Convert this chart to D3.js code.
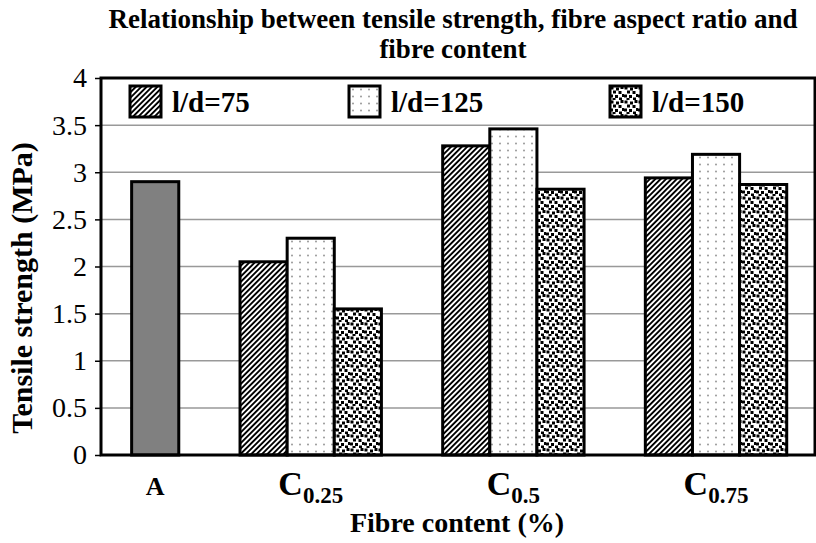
<!DOCTYPE html>
<html>
<head>
<meta charset="utf-8">
<script src="https://cdn.jsdelivr.net/npm/d3@7"></script>
<style>
  body { margin: 0; background: #fff; }
  text { font-family: "Liberation Serif", "Times New Roman", serif; fill: #000; }
</style>
</head>
<body>
<script>
// data
var categories = ["A", "C0.25", "C0.5", "C0.75"];
var series = ["l/d=75", "l/d=125", "l/d=150"];
var controlValue = [2.9];              // plain mix A
var ld75  = [2.05, 3.28, 2.94];         // C0.25, C0.5, C0.75
var ld125 = [2.30, 3.46, 3.19];
var ld150 = [1.55, 2.82, 2.87];
var yTicks = [0, 0.5, 1, 1.5, 2, 2.5, 3, 3.5, 4];

var width = 816, height = 543;
var plot = {left: 101, right: 815, top: 78, bottom: 455};

var svg = d3.select("body").append("svg")
    .attr("width", width)
    .attr("height", height);

// fill patterns
var defs = svg.append("defs");

var stripes = defs.append("pattern")
    .attr("id", "stripes")
    .attr("patternUnits", "userSpaceOnUse")
    .attr("width", 3.8).attr("height", 3.8)
    .attr("patternTransform", "rotate(45)");
stripes.append("rect").attr("width", 3.8).attr("height", 3.8).attr("fill", "#fff");
stripes.append("rect").attr("width", 1.9).attr("height", 3.8).attr("fill", "#000");

var dots = defs.append("pattern")
    .attr("id", "dots")
    .attr("patternUnits", "userSpaceOnUse")
    .attr("width", 8).attr("height", 7);
dots.append("rect").attr("width", 8).attr("height", 7).attr("fill", "#fff");
dots.append("circle").attr("cx", 4).attr("cy", 3.5).attr("r", 1).attr("fill", "#999");

var confetti = defs.append("pattern")
    .attr("id", "confetti")
    .attr("patternUnits", "userSpaceOnUse")
    .attr("width", 14).attr("height", 14);
confetti.append("rect").attr("width", 14).attr("height", 14).attr("fill", "#fff");
[[0.5, 0.5], [6, 1.5], [10.5, 0], [3, 4.5], [8.5, 5], [12, 8], [0, 8.5], [5, 9], [9, 11.5], [2.5, 12]].forEach(function(p) {
  confetti.append("rect").attr("x", p[0]).attr("y", p[1])
      .attr("width", 3).attr("height", 3).attr("fill", "#000");
});

var seriesFill = d3.scaleOrdinal()
    .domain(series)
    .range(["url(#stripes)", "url(#dots)", "url(#confetti)"]);

// x layout in "bar units": A has one bar, the C groups three
var groupSize = categories.map(function(c, i) { return i === 0 ? controlValue.length : series.length; });
var gap = 1.3, padLeft = 0.65, padRight = 0.6;
var groupStart = [];
var acc = padLeft;
groupSize.forEach(function(n, i) {
  groupStart.push(acc);
  acc += n + (i < groupSize.length - 1 ? gap : 0);
});
var total = acc + padRight;

var x = d3.scaleLinear().domain([0, total]).range([plot.left, plot.right]);
var xSub = d3.scaleBand().domain(series).range([0, series.length]);
var y = d3.scaleLinear().domain([0, 4]).range([plot.bottom, plot.top]);

// gridlines
svg.append("g")
  .selectAll("line")
  .data(yTicks.filter(function(d) { return d > 0 && d < 4; }))
  .enter().append("line")
    .attr("x1", plot.left).attr("x2", plot.right)
    .attr("y1", function(d) { return y(d); })
    .attr("y2", function(d) { return y(d); })
    .attr("stroke", "#999")
    .attr("stroke-width", 1.5);

// bar records
var bars = [{cat: "A", start: groupStart[0], w: 1, value: controlValue[0], fill: "#808080"}];
[ld75, ld125, ld150].forEach(function(vals, s) {
  vals.forEach(function(v, i) {
    bars.push({
      cat: categories[i + 1],
      start: groupStart[i + 1] + xSub(series[s]),
      w: xSub.bandwidth(),
      value: v,
      fill: seriesFill(series[s])
    });
  });
});

svg.append("g")
  .selectAll("rect")
  .data(bars)
  .enter().append("rect")
    .attr("x", function(d) { return x(d.start); })
    .attr("width", function(d) { return x(d.start + d.w) - x(d.start); })
    .attr("y", function(d) { return y(d.value); })
    .attr("height", function(d) { return y(0) - y(d.value); })
    .attr("fill", function(d) { return d.fill; })
    .attr("stroke", "#000")
    .attr("stroke-width", 3);

// plot frame
svg.append("rect")
    .attr("x", plot.left).attr("y", plot.top)
    .attr("width", plot.right - plot.left)
    .attr("height", plot.bottom - plot.top)
    .attr("fill", "none")
    .attr("stroke", "#000")
    .attr("stroke-width", 3);

// y axis
var yAxis = svg.append("g")
    .attr("transform", "translate(" + plot.left + ",0)")
    .call(d3.axisLeft(y).tickValues(yTicks).tickSize(6).tickPadding(8)
      .tickFormat(function(d) { return d; }));
yAxis.select(".domain").remove();
yAxis.selectAll("line").attr("stroke", "#000").attr("stroke-width", 1.5);
yAxis.selectAll("text")
    .style("font-family", "'Liberation Serif', 'Times New Roman', serif")
    .style("font-size", "28px")
    .attr("fill", "#000");

// category labels
var catLabels = svg.append("g")
  .selectAll("text")
  .data(categories)
  .enter().append("text")
    .attr("x", function(d, i) { return x(groupStart[i] + groupSize[i] / 2); })
    .attr("y", 495)
    .attr("text-anchor", "middle")
    .style("font-weight", "bold");
catLabels.each(function(d) {
  var t = d3.select(this);
  var main = d.charAt(0), sub = d.slice(1);
  t.append("tspan").style("font-size", sub ? "34px" : "26px").text(main);
  if (sub) t.append("tspan").style("font-size", "23px").attr("dy", 8).text(sub);
});

// axis titles
svg.append("text")
    .attr("x", 457).attr("y", 532)
    .attr("text-anchor", "middle")
    .style("font-size", "28px").style("font-weight", "bold")
    .text("Fibre content (%)");

svg.append("text")
    .attr("transform", "translate(32," + 288 + ") rotate(-90)")
    .attr("text-anchor", "middle")
    .style("font-size", "30px").style("font-weight", "bold")
    .text("Tensile strength (MPa)");

// title, two lines
svg.append("text")
    .attr("x", 453).attr("y", 28)
    .attr("text-anchor", "middle")
    .style("font-size", "27px").style("font-weight", "bold")
    .text("Relationship between tensile strength, fibre aspect ratio and");
svg.append("text")
    .attr("x", 453).attr("y", 58)
    .attr("text-anchor", "middle")
    .style("font-size", "27px").style("font-weight", "bold")
    .text("fibre content");

// legend
var legendX = [130, 349, 610];
var legend = svg.append("g")
  .selectAll("g")
  .data(series)
  .enter().append("g")
    .attr("transform", function(d, i) { return "translate(" + legendX[i] + ",86)"; });
legend.append("rect")
    .attr("width", 31).attr("height", 31)
    .attr("fill", function(d) { return seriesFill(d); })
    .attr("stroke", "#000")
    .attr("stroke-width", 3);
legend.append("text")
    .attr("x", 42).attr("y", 26)
    .style("font-size", "29px").style("font-weight", "bold")
    .text(function(d) { return d; });
</script>
</body>
</html>
